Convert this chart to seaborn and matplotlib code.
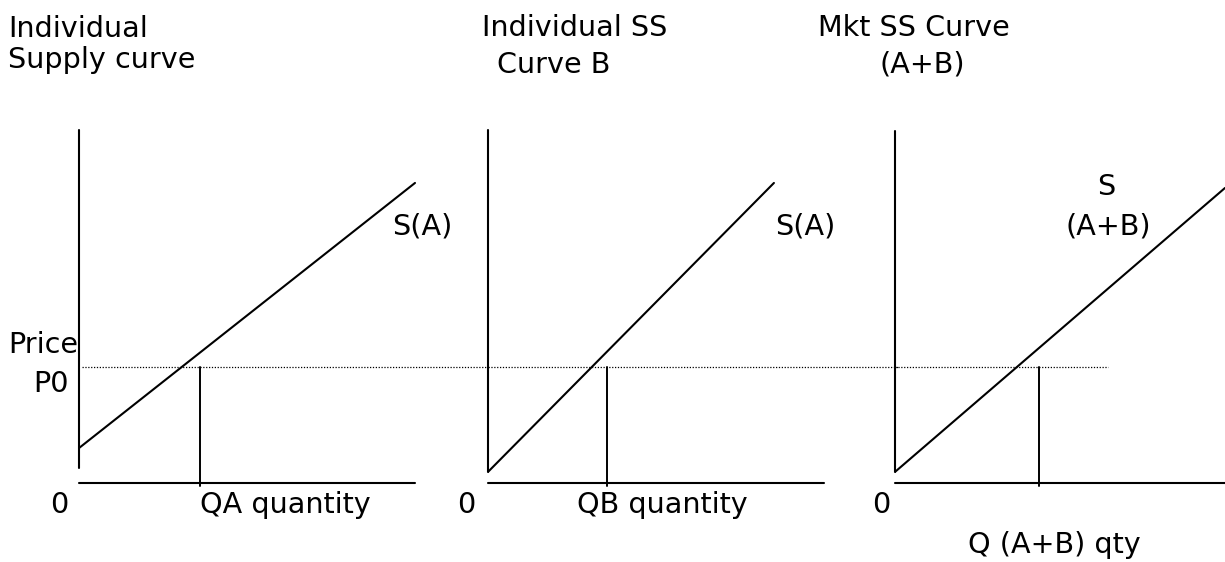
import pandas as pd
import seaborn as sns
import matplotlib
matplotlib.use("Agg")
import matplotlib.pyplot as plt

# --- diagram values (price / quantity units) ---
P0 = 3.45

qty_A = [0, 10.0]
price_A = [1.04, 8.93]
QA = 3.6

qty_B = [0, 8.51]
price_B = [0.33, 8.93]
QB = 3.54

qty_AB = [0, 9.82]
price_AB = [0.33, 8.78]
QAB = 4.29

axis_len = [10.0, 10.0, 9.82]        # quantity axis length
axis_bottom = [0.45, 0.33, 0.33]     # where price axis starts
axis_top = [10.5, 10.5, 10.48]       # where price axis ends
dotted_end = [12.2, 12.2, 6.34]      # P0 guide line end in each panel

titles = [["Individual", "Supply curve"],
          ["Individual SS", "Curve B"],
          ["Mkt SS Curve", "(A+B)"]]
qty_labels = ["QA quantity", "QB quantity", "Q (A+B) qty"]
curve_labels = [["S(A)"], ["S(A)"], ["S", "(A+B)"]]

sns.set_style("white")
plt.rcParams['font.family'] = ['DejaVu Sans']

W, H = 1225, 562
px = 33.6       # pixels per unit
y_origin = 483  # pixel row of quantity axes
fig = plt.figure(figsize=(W / 100, H / 100), dpi=100)

# panel placement: (left px, right px, origin px)
panels = [(0, 488, 79), (488, 895, 488), (895, 1225, 895)]
curves = [(qty_A, price_A, QA), (qty_B, price_B, QB), (qty_AB, price_AB, QAB)]

lw = 1.5
for i, (x0, x1, ox) in enumerate(panels):
    ax = fig.add_axes([x0 / W, 0, (x1 - x0) / W, 1])
    ax.set_xlim((x0 - ox) / px, (x1 - ox) / px)
    ax.set_ylim(-(H - y_origin) / px, y_origin / px)
    ax.axis("off")
    ax.patch.set_visible(False)

    q, p, qe = curves[i]
    df = pd.DataFrame({"quantity": q, "price": p})
    sns.lineplot(data=df, x="quantity", y="price", ax=ax, color="black", lw=lw)

    # axes of the diagram
    ax.plot([0, 0], [axis_bottom[i], axis_top[i]], color="black", lw=lw, clip_on=False)
    ax.plot([0, axis_len[i]], [0, 0], color="black", lw=lw, clip_on=False)
    # equilibrium quantity
    ax.plot([qe, qe], [-0.1, P0], color="black", lw=1.4, clip_on=False)
    # price guide
    start = 0.09 if i == 0 else 0
    ax.plot([start, dotted_end[i]], [P0, P0], color="black", lw=0.9,
            linestyle=(0, (1, 1.3)), clip_on=False)

fs = 20.6

def label(x, y, s):
    fig.text(x / W, 1 - y / H, s, fontsize=fs, ha="left", va="baseline", color="black")

# titles
label(8, 37, titles[0][0]); label(8, 68, titles[0][1])
label(482, 36, titles[1][0]); label(497, 73, titles[1][1])
label(818, 36, titles[2][0]); label(880, 73, titles[2][1])

# price labels
label(8, 353, "Price")
label(33, 392, "P0")

# origins and quantity labels
label(50, 513, "0"); label(200, 513, qty_labels[0])
label(457, 513, "0"); label(577, 513, qty_labels[1])
label(872, 513, "0"); label(968, 553, qty_labels[2])

# curve labels
label(392, 235, curve_labels[0][0])
label(775, 235, curve_labels[1][0])
label(1097, 195, curve_labels[2][0])
label(1065, 235, curve_labels[2][1])

fig.savefig("out.png", dpi=100, facecolor="white")
